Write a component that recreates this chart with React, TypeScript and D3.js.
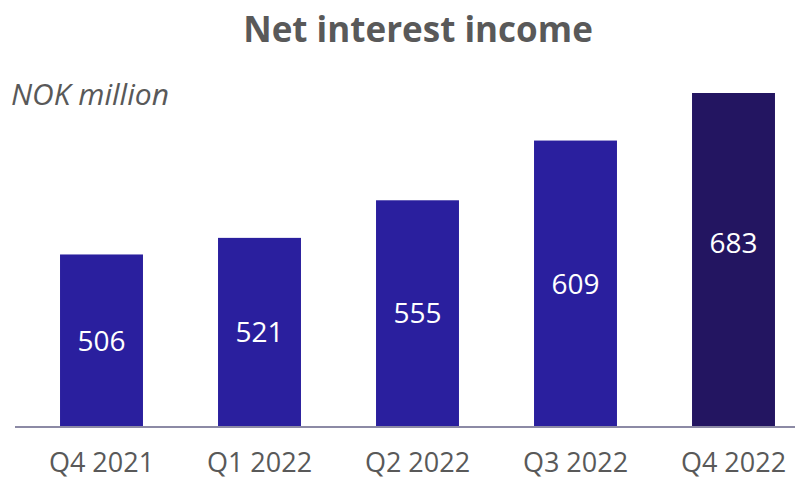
import * as d3 from 'd3'

const categories = ['Q4 2021', 'Q1 2022', 'Q2 2022', 'Q3 2022', 'Q4 2022']
const values = [506, 521, 555, 609, 683]
const highlight = [false, false, false, false, true]

const WIDTH = 795
const HEIGHT = 481
const BAR = '#2a1f9e'
const BAR_DARK = '#231561'
const AXIS = '#8c8aa5'
const TEXT = '#595959'
const FONT = "'Open Sans', 'Noto Sans', sans-serif"

const App = () => {
  const baseline = 427
  const top = 93

  const x = d3
    .scaleBand()
    .domain(categories)
    .range([22.5, 812.5])
    .paddingInner(0.475)
    .paddingOuter(0.2375)

  // value axis does not start at zero, bars above the plot top are clipped
  const y = d3.scaleLinear().domain([350, 652]).range([baseline, top])

  return (
    <svg
      width={WIDTH}
      height={HEIGHT}
      style={{ position: 'absolute', left: 0, top: 0, background: '#fff' }}
    >
      <defs>
        <clipPath id="plot">
          <rect x={0} y={top} width={WIDTH} height={baseline - top + 2} />
        </clipPath>
      </defs>

      <text
        x={418}
        y={42}
        textAnchor="middle"
        fontFamily={FONT}
        fontWeight={700}
        fontSize={35}
        fill={TEXT}
      >
        Net interest income
      </text>
      <text
        x={11}
        y={105}
        fontFamily={FONT}
        fontStyle="italic"
        fontSize={30}
        fill={TEXT}
      >
        NOK million
      </text>

      <g clipPath="url(#plot)">
        {values.map((v, i) => (
          <rect
            key={categories[i]}
            x={x(categories[i])}
            y={y(v)}
            width={x.bandwidth()}
            height={baseline - y(v) + (highlight[i] ? 1 : 0)}
            fill={highlight[i] ? BAR_DARK : BAR}
          />
        ))}
      </g>

      <line x1={15} x2={WIDTH} y1={baseline} y2={baseline} stroke={AXIS} strokeWidth={2} />

      {values.map((v, i) => (
        <text
          key={'v' + i}
          x={(x(categories[i]) as number) + x.bandwidth() / 2}
          y={(y(v) + baseline) / 2}
          dy="0.35em"
          textAnchor="middle"
          fontFamily={FONT}
          fontSize={28}
          fill="#fff"
        >
          {v}
        </text>
      ))}

      {categories.map((c) => (
        <text
          key={c}
          x={(x(c) as number) + x.bandwidth() / 2}
          y={472}
          textAnchor="middle"
          fontFamily={FONT}
          fontSize={27}
          fill={TEXT}
        >
          {c}
        </text>
      ))}
    </svg>
  )
}

export default App
